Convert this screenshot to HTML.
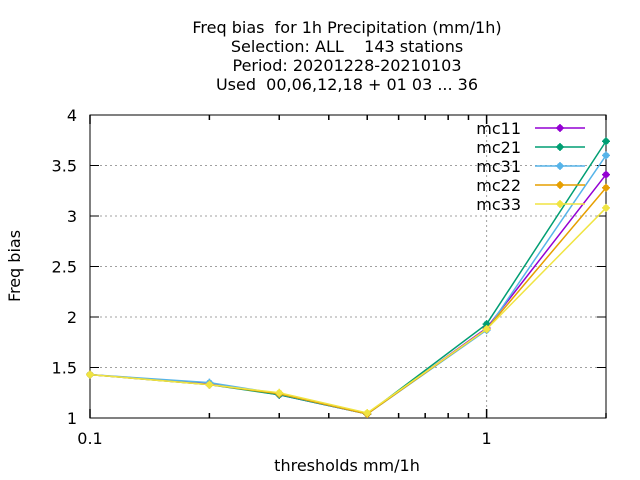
<!DOCTYPE html>
<html><head><meta charset="utf-8"><style>
body{margin:0;background:#fff;}
svg{display:block;font-family:"DejaVu Sans","Liberation Sans",sans-serif;}
text{white-space:pre;}
</style></head><body>
<svg id="c" width="640" height="480" xmlns="http://www.w3.org/2000/svg">
<g font-size="16" text-anchor="middle" fill="#000">
<text x="347" y="33">Freq bias  for 1h Precipitation (mm/1h)</text>
<text x="347" y="52">Selection: ALL    143 stations</text>
<text x="347" y="71">Period: 20201228-20210103</text>
<text x="347" y="90">Used  00,06,12,18 + 01 03 ... 36</text>
</g>
<text x="20" y="266" font-size="16" text-anchor="middle" transform="rotate(-90 20 266)">Freq bias</text>
<text x="347" y="471" font-size="16" text-anchor="middle">thresholds mm/1h</text>
<g id="grid"></g><g id="axes"></g><g id="series"></g><g id="legend"></g>
</svg>
<script>
const categories=[0.1,0.2,0.3,0.5,1,2];
const seriesNames=["mc11","mc21","mc31","mc22","mc33"];
const colors=["#9400d3","#009e73","#56b4e9","#e69f00","#f0e442"];
const mc11=[1.43,1.34,1.23,1.04,1.89,3.41];
const mc21=[1.43,1.33,1.23,1.04,1.93,3.74];
const mc31=[1.43,1.35,1.24,1.04,1.87,3.60];
const mc22=[1.43,1.33,1.24,1.04,1.88,3.28];
const mc33=[1.43,1.33,1.25,1.05,1.88,3.08];
const yTicks=[1,1.5,2,2.5,3,3.5,4];
const yTickLabels=["1","1.5","2","2.5","3","3.5","4"];
const xMajor=[0.1,1];
const xMajorLabels=["0.1","1"];
const xMinor=[0.2,0.3,0.4,0.5,0.6,0.7,0.8,0.9,2];
const allSeries=[mc11,mc21,mc31,mc22,mc33];
const L=90,R=606,T=115,B=418,NS="http://www.w3.org/2000/svg";
const X=v=>L+(Math.log10(v)-Math.log10(0.1))/(Math.log10(2)-Math.log10(0.1))*(R-L);
const Y=v=>B-(v-1)/3*(B-T);
function mk(t,a,p){const e=document.createElementNS(NS,t);for(const k in a)e.setAttribute(k,a[k]);p.appendChild(e);return e;}
const grid=document.getElementById('grid'),axes=document.getElementById('axes');
yTicks.forEach((v,i)=>{
 if(v>1&&v<4){const g=mk('line',{x1:L,x2:R,y1:Y(v),y2:Y(v),stroke:'#a0a0a0','stroke-dasharray':'2,3'},grid);
 
 }
 mk('line',{x1:L,x2:L+9,y1:Y(v),y2:Y(v),stroke:'#000'},axes);
 mk('line',{x1:R,x2:R-9,y1:Y(v),y2:Y(v),stroke:'#000'},axes);
 const t=mk('text',{x:L-13,y:Y(v)+6,'font-size':16,'text-anchor':'end'},axes);t.textContent=yTickLabels[i];
 
 
});
xMajor.forEach((v,i)=>{
 if(v>0.1){const g=mk('line',{x1:X(v),x2:X(v),y1:T,y2:B,stroke:'#a0a0a0','stroke-dasharray':'2,3'},grid);
 
 }
 mk('line',{x1:X(v),x2:X(v),y1:B,y2:B-9,stroke:'#000','stroke-width':1.5},axes);
 mk('line',{x1:X(v),x2:X(v),y1:T,y2:T+9,stroke:'#000','stroke-width':1.5},axes);
 const t=mk('text',{x:X(v),y:B+26,'font-size':16,'text-anchor':'middle'},axes);t.textContent=xMajorLabels[i];
 
 
});
xMinor.forEach(v=>{
 mk('line',{x1:X(v),x2:X(v),y1:B,y2:B-5,stroke:'#000','stroke-width':1.5},axes);
 mk('line',{x1:X(v),x2:X(v),y1:T,y2:T+5,stroke:'#000','stroke-width':1.5},axes);
});
const fr=mk('rect',{x:L,y:T,width:R-L,height:B-T,fill:'none',stroke:'#000'},axes);


const sg=document.getElementById('series'),lg=document.getElementById('legend');
function marker(p,x,y,c){mk('circle',{cx:x,cy:y,r:3.2,fill:c},p);mk('path',{d:`M${x-4},${y}h8M${x},${y-4}v8`,stroke:c,'stroke-width':1.5},p);}
allSeries.forEach((d,s)=>{
 const g=mk('g',{},sg);
 
 
 mk('polyline',{points:d.map((v,i)=>X(categories[i])+','+Y(v)).join(' '),fill:'none',stroke:colors[s],'stroke-width':1.5},g);
 d.forEach((v,i)=>marker(g,X(categories[i]),Y(v),colors[s]));
 const e=mk('g',{},lg);
 
 
 const ly=128+s*19;
 const t=mk('text',{x:521,y:ly+6,'font-size':16,'text-anchor':'end'},e);t.textContent=seriesNames[s];
 mk('line',{x1:535,x2:585,y1:ly,y2:ly,stroke:colors[s],'stroke-width':1.5},e);
 marker(e,560,ly,colors[s]);
});
</script>
</body></html>
